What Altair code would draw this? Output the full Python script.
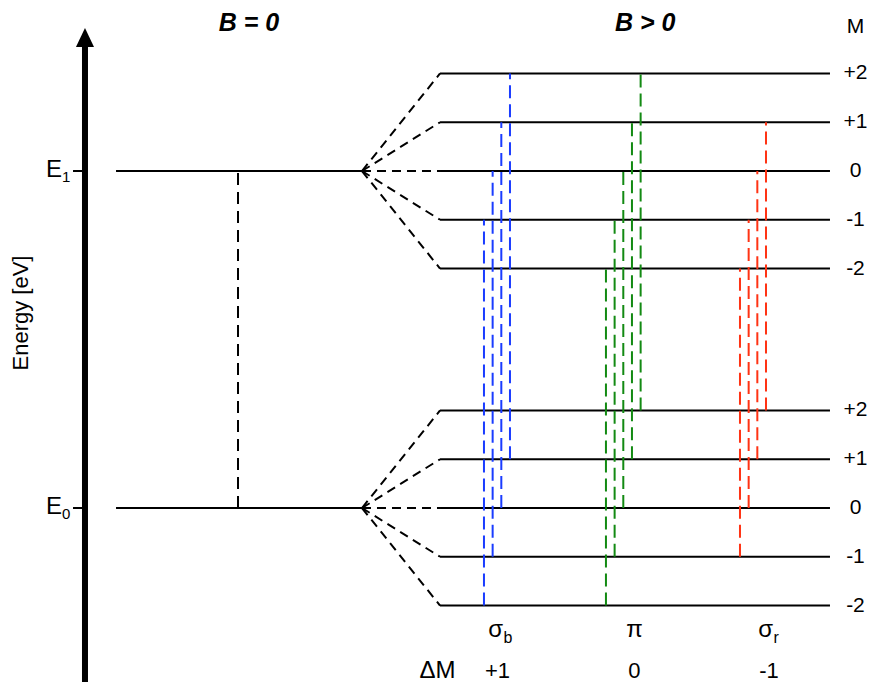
import altair as alt
import pandas as pd

# ------------------------------------------------------------------ data
M_values = [2, 1, 0, -1, -2]
M_labels = ["+2", "+1", "0", "-1", "-2"]
level_energy = [0.0, 1.0]            # E0, E1 (arbitrary energy units)
level_sub = ["0", "1"]
zeeman_step = 0.1447                 # spacing of the M sublevels for B > 0

groups = ["σb", "π", "σr"]
group_delta = [1, 0, -1]             # ΔM = M(upper) - M(lower)
group_lower_M = [[-2, -1, 0, 1], [-2, -1, 0, 1, 2], [-1, 0, 1, 2]]
group_main = ["σ", "π", "σ"]
group_sub = ["b", "", "r"]
delta_labels = ["+1", "0", "-1"]
group_colors = ["#1a3cff", "#138a13", "#ff3314"]

headers = ["B = 0", "B > 0"]

# ------------------------------------------------------------------ layout (diagram units)
X_DOMAIN = [0, 99.08]
Y_DOMAIN = [-0.5163, 1.4837]
X_AXIS = 8.88
X_TICK = 7.50
X_ELABEL = 6.23
X_B0_START, X_B0_END = 12.46, 40.83
X_B0_TRANS = 26.53
X_FAN_END = 49.83
X_LEVEL_END = 94.81
X_MLABEL = 97.75
GROUP_X0 = [54.9, 68.97, 84.43]
GROUP_STEP = 1.0
GROUP_MAIN_X = [57.09, 72.26, 88.24]
DELTA_X = [56.46, 72.26, 87.77]
X_DELTA_TITLE = 49.54
HEADER_X = [27.8, 73.5]
Y_HEADER = Y_DOMAIN[1]
Y_MHEADER = 1.4095
Y_LABEL_ROW = -0.3828
Y_DELTA_ROW = -0.5045
Y_ARROW_TOP = 1.3961
Y_AXIS_TOP = 1.374
X_YTITLE, Y_YTITLE = 1.55, 0.5786

FONT = "Liberation Sans"

xs = alt.Scale(domain=X_DOMAIN, nice=False, zero=False)
ys = alt.Scale(domain=Y_DOMAIN, nice=False, zero=False)


def X(f="x"):
    return alt.X(f"{f}:Q", scale=xs, axis=None)


def Y(f="y"):
    return alt.Y(f"{f}:Q", scale=ys, axis=None)


# energy axis with arrow
axis_df = pd.DataFrame({"x": [X_AXIS], "y": [Y_DOMAIN[0]], "y2": [Y_AXIS_TOP]})
axis_line = alt.Chart(axis_df).mark_rule(color="black", strokeWidth=6, strokeCap="butt").encode(
    x=X(), y=Y(), y2="y2:Q")
arrow_df = pd.DataFrame({"x": [X_AXIS], "y": [Y_ARROW_TOP]})
arrow_head = alt.Chart(arrow_df).mark_point(
    shape="M0,-1L-0.95,1L0.95,1Z", size=361, filled=True, fill="black", opacity=1
).encode(x=X(), y=Y())

tick_df = pd.DataFrame({"x": [X_TICK] * 2, "x2": [X_AXIS] * 2, "y": level_energy})
ticks = alt.Chart(tick_df).mark_rule(color="black", strokeWidth=2).encode(x=X(), x2="x2:Q", y=Y())

elab_df = pd.DataFrame({"x": [X_ELABEL] * 2, "y": level_energy, "t": ["E", "E"], "s": level_sub})
e_main = alt.Chart(elab_df).mark_text(font=FONT, fontSize=24, align="right", baseline="alphabetic",
                                      dy=6, color="black").encode(x=X(), y=Y(), text="t:N")
e_sub = alt.Chart(elab_df).mark_text(font=FONT, fontSize=15, align="left", baseline="alphabetic",
                                     dy=11, color="black").encode(x=X(), y=Y(), text="s:N")

ytitle = alt.Chart(pd.DataFrame({"x": [X_YTITLE], "y": [Y_YTITLE], "t": ["Energy [eV]"]})).mark_text(
    font=FONT, fontSize=22, angle=270, align="center", baseline="middle", color="black"
).encode(x=X(), y=Y(), text="t:N")

# B = 0 levels and transition
b0_df = pd.DataFrame({"x": [X_B0_START] * 2, "x2": [X_B0_END] * 2, "y": level_energy})
b0_levels = alt.Chart(b0_df).mark_rule(color="black", strokeWidth=2).encode(x=X(), x2="x2:Q", y=Y())
b0t_df = pd.DataFrame({"x": [X_B0_TRANS], "y": [level_energy[0]], "y2": [level_energy[1]]})
b0_trans = alt.Chart(b0t_df).mark_rule(color="black", strokeWidth=2, strokeDash=[12, 7]).encode(
    x=X(), y=Y(), y2="y2:Q")

# Zeeman fan and split levels
fan_rows, lvl_rows = [], []
for E in level_energy:
    for M in M_values:
        fan_rows.append({"x": X_B0_END, "y": E, "x2": X_FAN_END, "y2": E + M * zeeman_step})
        lvl_rows.append({"x": X_FAN_END, "x2": X_LEVEL_END, "y": E + M * zeeman_step})
fan = alt.Chart(pd.DataFrame(fan_rows)).mark_rule(color="black", strokeWidth=2, strokeDash=[9, 6]).encode(
    x=X(), x2="x2:Q", y=Y(), y2="y2:Q")
levels = alt.Chart(pd.DataFrame(lvl_rows)).mark_rule(color="black", strokeWidth=2).encode(
    x=X(), x2="x2:Q", y=Y())

mlab_rows = []
for E in level_energy:
    for M, lab in zip(M_values, M_labels):
        mlab_rows.append({"x": X_MLABEL, "y": E + M * zeeman_step, "t": lab})
mlabels = alt.Chart(pd.DataFrame(mlab_rows)).mark_text(
    font=FONT, fontSize=21, align="center", baseline="middle", color="black"
).encode(x=X(), y=Y(), text="t:N")
mhead = alt.Chart(pd.DataFrame({"x": [X_MLABEL], "y": [Y_MHEADER], "t": ["M"]})).mark_text(
    font=FONT, fontSize=21, align="center", baseline="alphabetic", color="black"
).encode(x=X(), y=Y(), text="t:N")

# transitions
tr_rows = []
for g, d, lows, x0 in zip(groups, group_delta, group_lower_M, GROUP_X0):
    for i, m in enumerate(lows):
        tr_rows.append({"g": g, "x": x0 + i * GROUP_STEP,
                        "y": level_energy[0] + m * zeeman_step,
                        "y2": level_energy[1] + (m + d) * zeeman_step})
trans = alt.Chart(pd.DataFrame(tr_rows)).mark_rule(strokeWidth=2, strokeDash=[13, 6]).encode(
    x=X(), y=Y(), y2="y2:Q",
    color=alt.Color("g:N", scale=alt.Scale(domain=groups, range=group_colors), legend=None))

# bottom labels
gl_df = pd.DataFrame({"x": GROUP_MAIN_X, "y": [Y_LABEL_ROW] * 3, "t": group_main, "s": group_sub})
gl_sigma = alt.Chart(gl_df[gl_df["s"] != ""]).mark_text(
    font=FONT, fontSize=24, align="right", baseline="alphabetic", color="black"
).encode(x=X(), y=Y(), text="t:N")
gl_pi = alt.Chart(gl_df[gl_df["s"] == ""]).mark_text(
    font=FONT, fontSize=24, align="center", baseline="alphabetic", color="black"
).encode(x=X(), y=Y(), text="t:N")
gl_sub = alt.Chart(gl_df[gl_df["s"] != ""]).mark_text(
    font=FONT, fontSize=16, align="left", baseline="alphabetic", dy=6, dx=0.5, color="black"
).encode(x=X(), y=Y(), text="s:N")

dt_df = pd.DataFrame({"x": [X_DELTA_TITLE], "y": [Y_DELTA_ROW], "t": ["ΔM"]})
dt = alt.Chart(dt_df).mark_text(font=FONT, fontSize=24, align="center", baseline="alphabetic",
                                color="black").encode(x=X(), y=Y(), text="t:N")
dl_df = pd.DataFrame({"x": DELTA_X, "y": [Y_DELTA_ROW] * 3, "t": delta_labels})
dl = alt.Chart(dl_df).mark_text(font=FONT, fontSize=22, align="center", baseline="alphabetic",
                                color="black").encode(x=X(), y=Y(), text="t:N")

hd_df = pd.DataFrame({"x": HEADER_X, "y": [Y_HEADER] * 2, "t": headers})
hd = alt.Chart(hd_df).mark_text(font=FONT, fontSize=25, fontWeight="bold", fontStyle="italic",
                                align="center", baseline="top", dy=3, color="black").encode(
    x=X(), y=Y(), text="t:N")

chart = alt.layer(
    b0_levels, b0_trans, fan, levels, trans, axis_line, arrow_head, ticks,
    e_main, e_sub, ytitle, mlabels, mhead, gl_sigma, gl_pi, gl_sub, dt, dl, hd
).properties(
    width=859, height=674, autosize=alt.AutoSizeParams(type="none"), padding=0,
    background="white"
).configure_view(stroke=None)

chart.save("out.html", embed_options={"renderer": "svg", "actions": False})
